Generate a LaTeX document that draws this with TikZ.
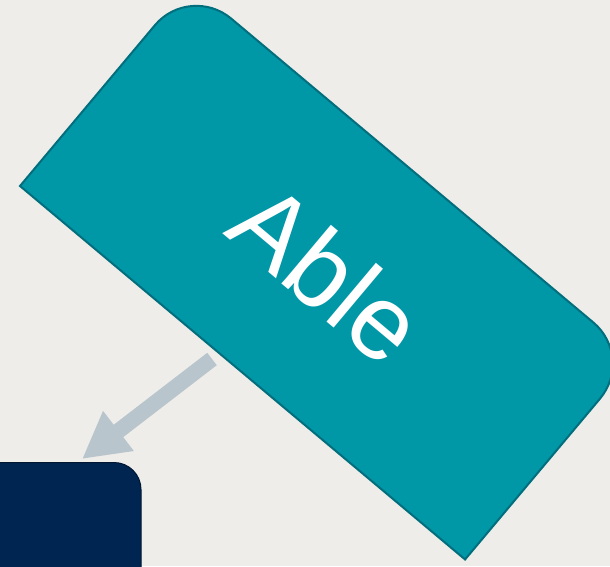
\documentclass[tikz,border=0pt]{standalone}
\usepackage{fontspec}
\setmainfont{Liberation Sans}
\usetikzlibrary{arrows.meta}
\definecolor{bg}{RGB}{238,237,233}
\definecolor{tealfill}{RGB}{0,151,167}
\definecolor{tealline}{RGB}{0,110,124}
\definecolor{navy}{RGB}{0,37,80}
\definecolor{navyline}{RGB}{0,22,50}
\definecolor{arrowgrey}{RGB}{185,197,204}
\tikzset{
  card/.style={fill=tealfill, draw=tealline, line width=2pt, line join=miter},
  navybox/.style={rectangle, fill=navy, draw=navyline, line width=1pt, rounded corners=27pt, inner sep=0pt},
  labeltext/.style={text=white, font=\fontsize{106}{120}\selectfont, inner sep=0pt},
  arrowline/.style={draw=arrowgrey, line width=15.6pt, line cap=butt, -{Triangle[length=46pt, width=47pt]}}
}
\begin{document}
\begin{tikzpicture}[x=1pt,y=1pt]
\useasboundingbox (0,0) rectangle (610,566);
\clip (0,0) rectangle (610,566);
\fill[bg] (0,0) rectangle (610,566);
\node[navybox, anchor=north east, minimum width=200pt, minimum height=150pt] (navy) at (141.5,104) {};
\coordinate (tail) at (212,207);
\coordinate (tip) at (82,107);
\draw[arrowline] (tail) -- (tip);
\begin{scope}[shift={(20,380)}, rotate=-40]
\path[card] (0,0) -- (581,0) -- (581,210) arc[start angle=0, end angle=90, radius=54] -- (54,264) arc[start angle=90, end angle=180, radius=54] -- cycle;
\end{scope}
\node[labeltext, rotate=-40] (able) at (328,293) {Able};
\end{tikzpicture}
\end{document}
